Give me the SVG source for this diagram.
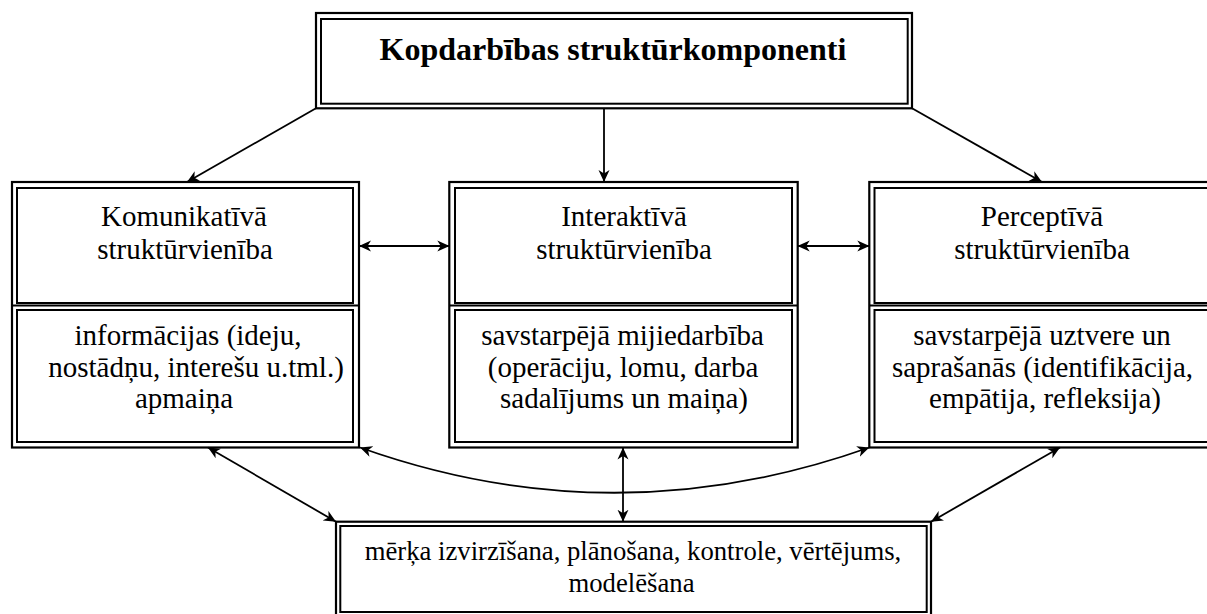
<svg xmlns="http://www.w3.org/2000/svg" width="1207" height="614" viewBox="0 0 1207 614">
  <style>
    .frame { fill: none; stroke: #000; stroke-width: 2.2; }
    .inner { fill: none; stroke: #000; stroke-width: 2; }
    .t { font-family: "Liberation Serif", "Times New Roman", serif; font-size: 29px; fill: #000; text-anchor: middle; }
    .s { font-size: 26.7px; }
    .title { font-family: "Liberation Serif", "Times New Roman", serif; font-size: 32px; font-weight: bold; fill: #000; text-anchor: middle; }
    .link { fill: none; stroke: #000; stroke-width: 1.8; }
    .one { marker-end: url(#head); }
    .both { marker-start: url(#head); marker-end: url(#head); }
  </style>
  <defs>
    <marker id="head" viewBox="0 0 12 12" refX="12" refY="6" markerWidth="12" markerHeight="12" markerUnits="userSpaceOnUse" orient="auto-start-reverse">
      <path d="M0,0.5 L12,6 L0,11.5 L3.5,6 Z" fill="#000"/>
    </marker>
  </defs>
  <rect width="1207" height="614" fill="#fff"/>

  <!-- Top heading -->
  <g id="heading">
    <rect class="frame" x="316" y="13" width="596" height="95.3"/>
    <rect class="inner" x="321" y="19" width="586.7" height="84.7"/>
    <text class="title" x="613" y="60">Kopdarbības struktūrkomponenti</text>
  </g>

  <!-- Communicative unit -->
  <g id="communicative">
    <rect class="frame" x="12" y="182" width="347" height="265.5"/>
    <line class="frame" x1="12" y1="305.5" x2="359" y2="305.5"/>
    <rect class="inner" x="17" y="188" width="336" height="115"/>
    <rect class="inner" x="17" y="310" width="336" height="132"/>
    <text class="t" x="184" y="226">Komunikatīvā</text>
    <text class="t" x="185" y="259">struktūrvienība</text>
    <text class="t" x="188" y="345">informācijas (ideju,</text>
    <text class="t" x="196" y="377">nostādņu, interešu u.tml.)</text>
    <text class="t" x="184" y="408">apmaiņa</text>
  </g>

  <!-- Interactive unit -->
  <g id="interactive">
    <rect class="frame" x="449.3" y="182" width="348.4" height="265.5"/>
    <line class="frame" x1="449.3" y1="305.5" x2="797.7" y2="305.5"/>
    <rect class="inner" x="455" y="188" width="337" height="115"/>
    <rect class="inner" x="455" y="310" width="337" height="132"/>
    <text class="t" x="624" y="226">Interaktīvā</text>
    <text class="t" x="624" y="259">struktūrvienība</text>
    <text class="t" x="622.5" y="345">savstarpējā mijiedarbība</text>
    <text class="t" x="623" y="377">(operāciju, lomu, darba</text>
    <text class="t" x="624" y="408">sadalījums un maiņa)</text>
  </g>

  <!-- Perceptive unit (runs past the right edge) -->
  <g id="perceptive">
    <rect class="frame" x="869.3" y="182" width="346" height="265.5"/>
    <line class="frame" x1="869.3" y1="305.5" x2="1215" y2="305.5"/>
    <rect class="inner" x="874.5" y="188" width="335" height="115"/>
    <rect class="inner" x="874.5" y="310" width="335" height="132"/>
    <text class="t" x="1042" y="226">Perceptīvā</text>
    <text class="t" x="1042" y="259">struktūrvienība</text>
    <text class="t" x="1042" y="345">savstarpējā uztvere un</text>
    <text class="t" x="1042.5" y="377">saprašanās (identifikācija,</text>
    <text class="t" x="1045" y="408">empātija, refleksija)</text>
  </g>

  <!-- Shared activities -->
  <g id="activities">
    <rect class="frame" x="336" y="521.7" width="595" height="96"/>
    <rect class="inner" x="340.3" y="526" width="586.4" height="86"/>
    <text class="t s" x="633" y="560">mērķa izvirzīšana, plānošana, kontrole, vērtējums,</text>
    <text class="t s" x="631.5" y="592">modelēšana</text>
  </g>

  <!-- Connectors -->
  <g id="connectors">
    <line class="link one" x1="316" y1="108.3" x2="187" y2="182"/>
    <line class="link one" x1="604" y1="108.3" x2="604" y2="182"/>
    <line class="link one" x1="912" y1="108.3" x2="1042" y2="182"/>
    <line class="link both" x1="359" y1="246" x2="449.3" y2="246"/>
    <line class="link both" x1="797.7" y1="246" x2="869.3" y2="246"/>
    <line class="link both" x1="208" y1="447.5" x2="336" y2="521.7"/>
    <path class="link both" d="M360,447.5 Q614,538 869.3,447.5"/>
    <line class="link both" x1="623" y1="447.5" x2="623" y2="521.7"/>
    <line class="link both" x1="1060" y1="447.5" x2="931" y2="521.7"/>
  </g>
</svg>
